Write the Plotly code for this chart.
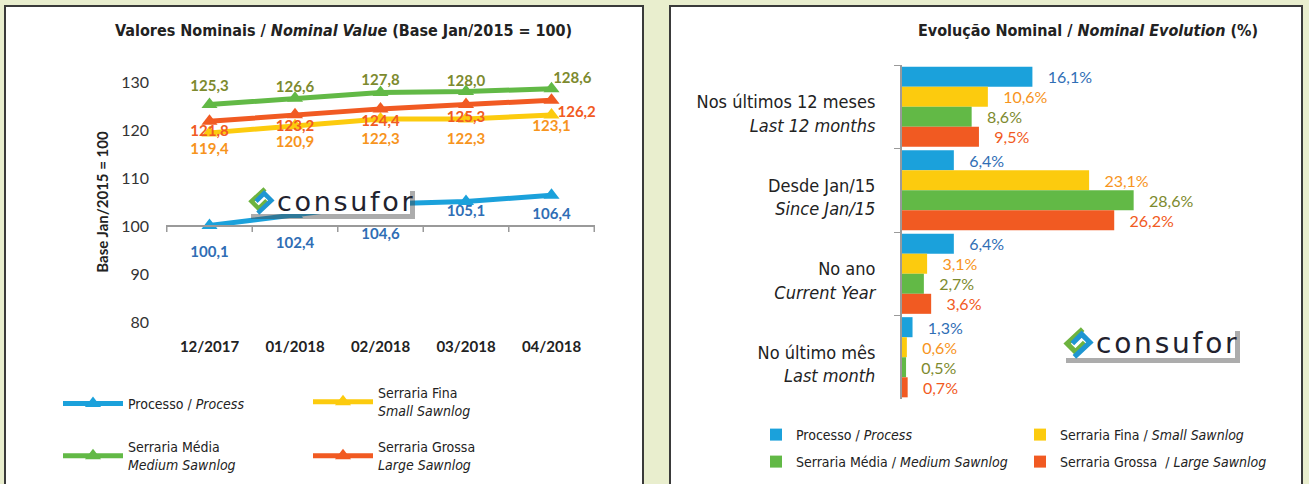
import plotly.graph_objects as go

W, H = 1309, 484

# ---------------- data ----------------
months = ["12/2017", "01/2018", "02/2018", "03/2018", "04/2018"]
processo = [100.1, 102.4, 104.6, 105.1, 106.4]
serraria_fina = [119.4, 120.9, 122.3, 122.3, 123.1]
serraria_media = [125.3, 126.6, 127.8, 128.0, 128.6]
serraria_grossa = [121.8, 123.2, 124.4, 125.3, 126.2]

periods = [
    "Nos últimos 12 meses<br><i>Last 12 months</i>",
    "Desde Jan/15<br><i>Since Jan/15</i>",
    "No ano<br><i>Current Year</i>",
    "No último mês<br><i>Last month</i>",
]
evo_processo = [16.1, 6.4, 6.4, 1.3]
evo_fina = [10.6, 23.1, 3.1, 0.6]
evo_media = [8.6, 28.6, 2.7, 0.5]
evo_grossa = [9.5, 26.2, 3.6, 0.7]

line_names = [
    "Processo / <i>Process</i>",
    "Serraria Fina<br><i>Small Sawnlog</i>",
    "Serraria Média<br><i>Medium Sawnlog</i>",
    "Serraria Grossa<br><i>Large Sawnlog</i>",
]
bar_names = [
    "Processo / <i>Process</i>",
    "Serraria Fina / <i>Small Sawnlog</i>",
    "Serraria Média / <i>Medium Sawnlog</i>",
    "Serraria Grossa  / <i>Large Sawnlog</i>",
]

# ---------------- styles ----------------
LINE_COLORS = ["#1BA1DB", "#FCCB0E", "#62B946", "#F15A22"]
LABEL_COLORS = ["#2F6EB5", "#F7941D", "#7D8A2E", "#F15A22"]
NARROW = "Liberation Sans Narrow, DejaVu Sans Condensed, Arial Narrow, sans-serif"
NUMF = "Lato, Open Sans, sans-serif"
BG = "#E9EECE"
PLOTBG = "#F0F1F3"

# label placement (text position and spacing pad per point, in px)
LABEL_POS = [
    ["bottom center"] * 5,
    ["bottom center"] * 5,
    ["top center"] * 4 + ["top right"],
    ["bottom center"] * 4 + ["bottom right"],
]
LABEL_PAD = [
    [30, 34, 36, 4, 18],
    [14, 14, 20, 20, 6],
    [14, 2, 4, 1, 1],
    [4, 6, 8, 8, 8],
]


def px(x):
    return x / W


def py(y):
    return 1 - y / H


fig = go.Figure()

line_series = [processo, serraria_fina, serraria_media, serraria_grossa]
line_legends = ["legend", "legend2", "legend3", "legend4"]
bar_legends = ["legend5", "legend6", "legend7", "legend8"]

for i, vals in enumerate(line_series):
    fig.add_trace(go.Scatter(
        x=months, y=vals, name=line_names[i], mode="lines+markers",
        line=dict(color=LINE_COLORS[i], width=5),
        marker=dict(symbol="triangle-up", size=14, color=LINE_COLORS[i]),
        xaxis="x", yaxis="y", legend=line_legends[i], cliponaxis=False,
    ))

for i, vals in enumerate(line_series):
    fig.add_trace(go.Scatter(
        x=months, y=vals, mode="markers+text", showlegend=False, hoverinfo="skip",
        marker=dict(size=LABEL_PAD[i], opacity=0, color=LINE_COLORS[i]),
        texttemplate="%{y:.1f}", textposition=LABEL_POS[i],
        textfont=dict(family=NUMF, size=15, color=LABEL_COLORS[i], weight="bold"),
        xaxis="x", yaxis="y", cliponaxis=False,
    ))

bar_series = [evo_processo, evo_fina, evo_media, evo_grossa]
for i, vals in enumerate(bar_series):
    fig.add_trace(go.Bar(
        y=periods, x=vals, orientation="h", name=bar_names[i],
        marker=dict(color=LINE_COLORS[i], line=dict(width=0)),
        texttemplate="   %{x:.1f}%", textposition="outside",
        textfont=dict(family=NUMF, size=16, color=LABEL_COLORS[i]),
        constraintext="none", cliponaxis=False,
        xaxis="x2", yaxis="y2", legend=bar_legends[i],
    ))

shapes = []
# panels
shapes.append(dict(type="rect", xref="paper", yref="paper", x0=px(5), x1=px(643),
                   y0=py(492), y1=py(6), fillcolor="white",
                   line=dict(color="#3A3A3A", width=2), layer="below"))
shapes.append(dict(type="rect", xref="paper", yref="paper", x0=px(670), x1=px(1302),
                   y0=py(492), y1=py(6), fillcolor="white",
                   line=dict(color="#3A3A3A", width=2), layer="below"))
# axis line at 100 (left chart)
shapes.append(dict(type="line", xref="x domain", yref="y", x0=0, x1=1, y0=100, y1=100,
                   line=dict(color="#9A9A9A", width=2), layer="above"))
for b in range(len(months) + 1):
    shapes.append(dict(type="line", xref="x", yref="y", x0=b - 0.5, x1=b - 0.5,
                       ysizemode="pixel", yanchor=100, y0=0, y1=-6,
                       line=dict(color="#9A9A9A", width=1.5)))

annotations = []


def logo(x0, y0, w, h, fsize):
    # shadow
    shapes.append(dict(type="rect", xref="paper", yref="paper",
                       x0=px(x0 + 4), x1=px(x0 + w + 5), y0=py(y0 + h + 5), y1=py(y0 + 4),
                       fillcolor="rgba(70,70,70,0.45)", line=dict(width=0), layer="above"))
    shapes.append(dict(type="rect", xref="paper", yref="paper",
                       x0=px(x0), x1=px(x0 + w), y0=py(y0 + h), y1=py(y0),
                       fillcolor="white", line=dict(width=0), layer="above"))
    s = h / 30.0
    ix, iy = x0 + 2 * s, y0 + 1 * s

    def P(a, b):
        return f"{px(ix + a * s):.5f},{py(iy + b * s):.5f}"
    shapes.append(dict(type="path", xref="paper", yref="paper",
                       path=f"M{P(18,1)} L{P(3,15)} L{P(11,23)} L{P(20,14)}",
                       line=dict(color="#6DB33F", width=5 * s), layer="above"))
    shapes.append(dict(type="path", xref="paper", yref="paper",
                       path=f"M{P(10,28)} L{P(25,14)} L{P(17,6)} L{P(8,15)}",
                       line=dict(color="#1E96D2", width=5 * s), layer="above"))
    annotations.append(dict(xref="paper", yref="paper", x=px(x0 + 31 * s), y=py(y0 + h / 2 + 1),
                            xanchor="left", yanchor="middle", showarrow=False,
                            text="c o n s u f o r".replace(" ", "\u200a"),
                            font=dict(family="DejaVu Sans, Open Sans, sans-serif",
                                      size=fsize, color="#22222E")))


logo(247, 187, 163, 27, 27)
logo(1062, 327, 173, 31, 28)

annotations.append(dict(xref="paper", yref="paper", x=px(343), y=py(30), xanchor="center",
                        yanchor="middle", showarrow=False,
                        text="Valores Nominais / <i>Nominal Value</i> (Base Jan/2015 = 100)",
                        font=dict(family=NARROW, size=16, color="#222", weight="bold")))
annotations.append(dict(xref="paper", yref="paper", x=px(1088), y=py(30), xanchor="center",
                        yanchor="middle", showarrow=False,
                        text="Evolução Nominal / <i>Nominal Evolution</i> (%)",
                        font=dict(family=NARROW, size=16, color="#222", weight="bold")))


def legend_box(xpix, ypix, itemwidth):
    return dict(x=px(xpix), y=py(ypix), xanchor="left", yanchor="middle",
                orientation="v", itemwidth=itemwidth, valign="middle",
                font=dict(family=NARROW, size=14, color="#222"),
                bgcolor="rgba(0,0,0,0)", borderwidth=0, itemclick=False,
                itemdoubleclick=False)


legend_layout = {
    "legend": legend_box(58, 404, 60),
    "legend2": legend_box(308, 402, 60),
    "legend3": legend_box(58, 456, 60),
    "legend4": legend_box(308, 456, 60),
    "legend5": legend_box(756, 435, 30),
    "legend6": legend_box(1020, 435, 30),
    "legend7": legend_box(756, 462, 30),
    "legend8": legend_box(1020, 462, 30),
}

fig.update_layout(
    width=W, height=H, margin=dict(l=0, r=0, t=0, b=0, autoexpand=False),
    paper_bgcolor=BG, plot_bgcolor=PLOTBG,
    separators=",.",
    barmode="group", bargap=0.04, bargroupgap=0,
    shapes=shapes, annotations=annotations,
    xaxis=dict(domain=[px(166), px(595)], anchor="y", type="category",
               tickson="boundaries", showgrid=True, gridcolor="white", gridwidth=2,
               ticks="", showline=False, zeroline=False, automargin=False,
               tickfont=dict(family=NUMF, size=15, color="#222", weight="bold"),
               ticklabelstandoff=14),
    yaxis=dict(domain=[py(322), py(82)], anchor="x", range=[80, 130],
               tickvals=[80, 90, 100, 110, 120, 130], automargin=False,
               showgrid=True, gridcolor="white", gridwidth=2, zeroline=False,
               showline=False, ticks="",
               tickfont=dict(family=NUMF, size=16, color="#333"),
               ticklabelstandoff=16,
               title=dict(text="Base Jan/2015 = 100", standoff=8,
                          font=dict(family=NUMF, size=15, color="#222", weight="bold"))),
    xaxis2=dict(domain=[px(902), px(1226)], anchor="y2", range=[0, 40], automargin=False,
                showgrid=False, showticklabels=False, zeroline=False, showline=False),
    yaxis2=dict(domain=[py(399), py(65)], anchor="x2", type="category",
                autorange="reversed", tickson="boundaries", automargin=False,
                showgrid=True, gridcolor="white", gridwidth=3,
                ticks="outside", ticklen=6, tickcolor="#9A9A9A",
                showline=True, linecolor="#9A9A9A", linewidth=2,
                tickfont=dict(family=NARROW, size=18, color="#222"),
                ticklabelstandoff=21, ticklabelshift=-7),
    showlegend=True,
    hovermode=False,
    **legend_layout,
)

fig.write_html(
    "out.html",
    config={"displayModeBar": False},
    post_script="document.body.style.margin='0';document.body.style.background='%s';" % BG,
)
